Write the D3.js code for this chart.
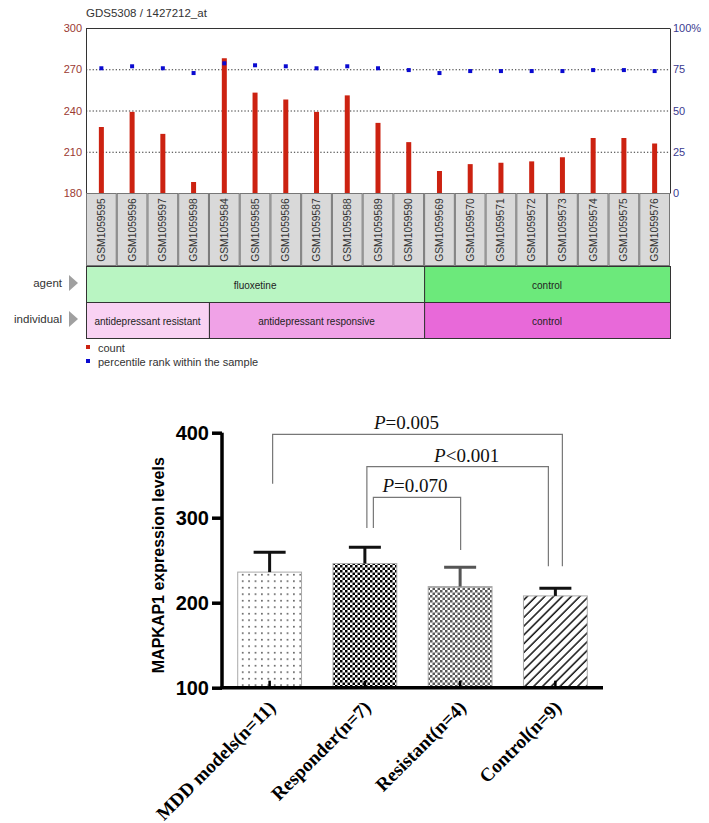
<!DOCTYPE html>
<html><head><meta charset="utf-8">
<script src="https://cdn.jsdelivr.net/npm/d3@7"></script>
<style>html,body{margin:0;padding:0;background:#fff}svg{display:block}</style>
</head><body>
<svg id="c" width="709" height="823"></svg>
<script>
// ---------- DATA ----------
const title = "GDS5308 / 1427212_at";
const samples = ["GSM1059595","GSM1059596","GSM1059597","GSM1059598","GSM1059584","GSM1059585","GSM1059586","GSM1059587","GSM1059588","GSM1059589","GSM1059590","GSM1059569","GSM1059570","GSM1059571","GSM1059572","GSM1059573","GSM1059574","GSM1059575","GSM1059576"];
const counts = [228, 239, 223, 188, 278, 253, 248, 239, 251, 231, 217, 196, 201, 202, 203, 206, 220, 220, 216];
const percentiles = [75.6, 76.8, 75.6, 72.7, 78.6, 77.4, 76.8, 75.6, 76.8, 75.6, 74.5, 72.7, 73.9, 73.9, 73.9, 73.9, 74.5, 74.5, 73.9];
const countTicks = [180, 210, 240, 270, 300];
const pctTicks = [0, 25, 50, 75, 100];
const agentOfSample = ["fluoxetine","fluoxetine","fluoxetine","fluoxetine","fluoxetine","fluoxetine","fluoxetine","fluoxetine","fluoxetine","fluoxetine","fluoxetine","control","control","control","control","control","control","control","control"];
const individualOfSample = ["antidepressant resistant","antidepressant resistant","antidepressant resistant","antidepressant resistant","antidepressant responsive","antidepressant responsive","antidepressant responsive","antidepressant responsive","antidepressant responsive","antidepressant responsive","antidepressant responsive","control","control","control","control","control","control","control","control"];
const legendLabels = ["count", "percentile rank within the sample"];

const groups = ["MDD models(n=11)", "Responder(n=7)", "Resistant(n=4)", "Control(n=9)"];
const means = [236, 246, 219, 208];
const sems = [23.5, 19.3, 22.8, 9];
const yTicks = [100, 200, 300, 400];
const yLabel = "MAPKAP1 expression levels";
const comparisons = [
  {a: 0, b: 3, op: "=", p: "0.005"},
  {a: 1, b: 3, op: "<", p: "0.001"},
  {a: 1, b: 2, op: "=", p: "0.070"}
];

// ---------- STYLES / LAYOUT ----------
const svg = d3.select("#c");
const T = {left: 86, right: 670, top: 28, bottom: 193};
const agentColors = {"fluoxetine": "#b9f5c2", "control": "#6ce97b"};
const indivColors = {"antidepressant resistant": "#f9d2f3", "antidepressant responsive": "#f0a2e7", "control": "#e869d9"};

// ---------- TOP CHART ----------
const topG = svg.append("g");
topG.append("text").attr("x", T.left).attr("y", 17).attr("font-family", "Arial, Liberation Sans, sans-serif")
  .attr("font-size", 11.5).attr("fill", "#333").text(title);

const x = d3.scaleBand().domain(samples).range([T.left, T.right]).padding(0);
const yC = d3.scaleLinear().domain([180, 300]).range([T.bottom, T.top]);
const yP = d3.scaleLinear().domain([0, 100]).range([T.bottom, T.top]);

// gridlines
topG.append("g").selectAll("line").data([210, 240, 270]).join("line")
  .attr("x1", T.left).attr("x2", T.right).attr("y1", d => yC(d) + 0.5).attr("y2", d => yC(d) + 0.5)
  .attr("stroke", "#333").attr("stroke-width", 1).attr("stroke-dasharray", "1.3,2");

// axes
const axL = topG.append("g").attr("transform", `translate(${T.left},0)`)
  .call(d3.axisLeft(yC).tickValues(countTicks).tickSize(0).tickPadding(4));
axL.select(".domain").attr("stroke", "#333");
axL.selectAll("text").attr("fill", "#9b3a32").attr("font-size", 11).attr("font-family", "Arial, Liberation Sans, sans-serif");
const axR = topG.append("g").attr("transform", `translate(${T.right},0)`)
  .call(d3.axisRight(yP).tickValues(pctTicks).tickSize(0).tickPadding(3).tickFormat(d => d === 100 ? "100%" : d));
axR.select(".domain").attr("stroke", "#333");
axR.selectAll("text").attr("fill", "#3a3a8f").attr("font-size", 11).attr("font-family", "Arial, Liberation Sans, sans-serif");
topG.append("line").attr("x1", T.left).attr("x2", T.right).attr("y1", T.top + 0.5).attr("y2", T.top + 0.5).attr("stroke", "#333");

// bars
topG.append("g").selectAll("rect").data(samples).join("rect")
  .attr("x", d => x(d) + x.bandwidth() / 2 - 2.5).attr("width", 5)
  .attr("y", (d, i) => yC(counts[i])).attr("height", (d, i) => T.bottom - yC(counts[i]))
  .attr("fill", "#cc2211");
// percentile points
topG.append("g").selectAll("rect").data(samples).join("rect")
  .attr("x", d => x(d) + x.bandwidth() / 2 - 2).attr("width", 4)
  .attr("y", (d, i) => yP(percentiles[i]) - 2).attr("height", 4)
  .attr("fill", "#0a0ad0");

// sample label boxes
const lab = topG.append("g").selectAll("g").data(samples).join("g");
lab.append("rect").attr("x", d => x(d) + 0.5).attr("y", T.bottom + 0.5).attr("width", x.bandwidth() - 1).attr("height", 72)
  .attr("fill", "#d9d9d9").attr("stroke", "#777");
lab.append("text").attr("transform", d => `translate(${x(d) + x.bandwidth() / 2 + 3.5},${T.bottom + 37}) rotate(-90)`)
  .attr("text-anchor", "middle").attr("font-family", "Arial, Liberation Sans, sans-serif").attr("font-size", 10.3)
  .attr("fill", "#333").text(d => d);

// group rows
function spans(arr) {
  const out = [];
  arr.forEach((v, i) => {
    if (out.length && out[out.length - 1].label === v) out[out.length - 1].end = i;
    else out.push({label: v, start: i, end: i});
  });
  return out;
}
function row(arr, colors, y0, h, name) {
  const g = topG.append("g");
  const sp = spans(arr);
  g.selectAll("rect").data(sp).join("rect")
    .attr("x", d => x(samples[d.start]) + 0.5).attr("y", y0 + 0.5)
    .attr("width", d => x(samples[d.end]) + x.bandwidth() - x(samples[d.start])).attr("height", h)
    .attr("fill", d => colors[d.label]).attr("stroke", "#333");
  g.selectAll("text.v").data(sp).join("text").attr("class", "v")
    .attr("x", d => (x(samples[d.start]) + x(samples[d.end]) + x.bandwidth()) / 2)
    .attr("y", y0 + h / 2 + 5).attr("text-anchor", "middle")
    .attr("font-family", "Arial, Liberation Sans, sans-serif").attr("font-size", 10).attr("fill", "#222")
    .text(d => d.label);
  g.append("text").attr("x", 62).attr("y", y0 + h / 2 + 3).attr("text-anchor", "end")
    .attr("font-family", "Arial, Liberation Sans, sans-serif").attr("font-size", 11.5).attr("fill", "#333").text(name);
  const cy = y0 + h / 2 - 1;
  g.append("path").attr("d", `M69,${cy - 8}L78,${cy}L69,${cy + 8}Z`).attr("fill", "#a0a0a0");
}
row(agentOfSample, agentColors, 266, 36, "agent");
row(individualOfSample, indivColors, 302, 36, "individual");

// legend
const lg = topG.append("g").selectAll("g").data(legendLabels).join("g")
  .attr("transform", (d, i) => `translate(86,${348 + i * 14})`);
lg.append("rect").attr("x", 0).attr("y", -3).attr("width", 4).attr("height", 4)
  .attr("fill", (d, i) => i === 0 ? "#cc2211" : "#0a0ad0");
lg.append("text").attr("x", 12).attr("y", 3.5).attr("font-family", "Arial, Liberation Sans, sans-serif")
  .attr("font-size", 11).attr("fill", "#333").text(d => d);

// ---------- BOTTOM CHART ----------
const B = {left: 222, right: 603, top: 432.7, bottom: 687.7};
const defs = svg.append("defs");
// dots
const pd = defs.append("pattern").attr("id", "dots").attr("patternUnits", "userSpaceOnUse")
  .attr("width", 6.4).attr("height", 6.5).attr("x", 240).attr("y", 0);
pd.append("rect").attr("width", 6.4).attr("height", 6.5).attr("fill", "#fff");
pd.append("rect").attr("x", 2).attr("y", 2).attr("width", 1.4).attr("height", 1.4).attr("fill", "#222");
// checkers
function checker(id, col) {
  const p = defs.append("pattern").attr("id", id).attr("patternUnits", "userSpaceOnUse").attr("width", 5).attr("height", 5);
  p.append("rect").attr("width", 5).attr("height", 5).attr("fill", "#fff");
  p.append("rect").attr("width", 2.5).attr("height", 2.5).attr("fill", col);
  p.append("rect").attr("x", 2.5).attr("y", 2.5).attr("width", 2.5).attr("height", 2.5).attr("fill", col);
}
checker("chk1", "#000");
checker("chk2", "#5a5a5a");
const ph = defs.append("pattern").attr("id", "hatch").attr("patternUnits", "userSpaceOnUse")
  .attr("width", 6.2).attr("height", 10).attr("patternTransform", "rotate(45)");
ph.append("rect").attr("width", 6.2).attr("height", 10).attr("fill", "#fff");
ph.append("line").attr("x1", 1).attr("x2", 1).attr("y1", 0).attr("y2", 10).attr("stroke", "#111").attr("stroke-width", 1.5);
const fills = ["url(#dots)", "url(#chk1)", "url(#chk2)", "url(#hatch)"];
const errColors = ["#111", "#111", "#555", "#111"];

const bx = d3.scaleBand().domain(groups).range([B.left, B.right]).paddingInner(0.33).paddingOuter(0.165);
const by = d3.scaleLinear().domain([100, 400]).range([B.bottom, B.top]);
const bot = svg.append("g");

// bars
bot.append("g").selectAll("rect").data(groups).join("rect")
  .attr("x", d => bx(d)).attr("width", bx.bandwidth())
  .attr("y", (d, i) => by(means[i])).attr("height", (d, i) => B.bottom - by(means[i]))
  .attr("fill", (d, i) => fills[i]).attr("stroke", "#aaa").attr("stroke-width", 1);
// error bars
const eb = bot.append("g").selectAll("g").data(groups).join("g");
eb.append("line").attr("x1", d => bx(d) + bx.bandwidth() / 2).attr("x2", d => bx(d) + bx.bandwidth() / 2)
  .attr("y1", (d, i) => by(means[i])).attr("y2", (d, i) => by(means[i] + sems[i]))
  .attr("stroke", (d, i) => errColors[i]).attr("stroke-width", 3);
eb.append("line").attr("x1", d => bx(d) + bx.bandwidth() / 2 - 16).attr("x2", d => bx(d) + bx.bandwidth() / 2 + 16)
  .attr("y1", (d, i) => by(means[i] + sems[i])).attr("y2", (d, i) => by(means[i] + sems[i]))
  .attr("stroke", (d, i) => errColors[i]).attr("stroke-width", 3);

// axes
const yax = bot.append("g").attr("transform", `translate(${B.left},0)`)
  .call(d3.axisLeft(by).tickValues(yTicks).tickSize(10).tickPadding(3));
yax.select(".domain").attr("stroke", "#000").attr("stroke-width", 3.5).attr("d", `M0,${B.top}V${B.bottom}`);
yax.selectAll(".tick line").attr("stroke", "#000").attr("stroke-width", 3.5);
yax.selectAll("text").attr("font-family", "Arial, Liberation Sans, sans-serif").attr("font-weight", "bold")
  .attr("font-size", 20).attr("fill", "#000").attr("dy", "0.35em");
const xax = bot.append("g").attr("transform", `translate(0,${B.bottom})`)
  .call(d3.axisBottom(bx).tickSize(-7).tickFormat(""));
xax.select(".domain").attr("stroke", "#000").attr("stroke-width", 3.5).attr("d", `M${B.left - 1.5},0H${B.right}`);
xax.selectAll(".tick line").attr("stroke", "#000").attr("stroke-width", 2.5);
// x labels
bot.append("g").selectAll("text").data(groups).join("text")
  .attr("transform", d => `translate(${bx(d) + bx.bandwidth() / 2 + 7},${B.bottom + 21}) rotate(-45)`)
  .attr("text-anchor", "end").attr("font-family", "Liberation Serif, Times New Roman, serif").attr("font-weight", "bold")
  .attr("font-size", 19).attr("fill", "#000").text(d => d);
// y label
bot.append("text").attr("transform", `translate(164,${(B.top + B.bottom) / 2 + 5}) rotate(-90)`)
  .attr("text-anchor", "middle").attr("font-family", "Arial, Liberation Sans, sans-serif").attr("font-weight", "bold")
  .attr("font-size", 16).attr("fill", "#000").text(yLabel);

// comparison brackets (levels in data units, leg offsets and text shifts in px)
const bracketLayout = [
  {level: 398, legA: 340, legB: 243, offA: 3, offB: 7, tx: -11},
  {level: 360, legA: 288, legB: 243, offA: 2, offB: -7, tx: 9},
  {level: 324, legA: 288, legB: 262, offA: 8.5, offB: 0.5, tx: -2}
];
const cx = i => bx(groups[i]) + bx.bandwidth() / 2;
const br = bot.append("g").selectAll("g").data(comparisons).join("g");
br.append("path").attr("fill", "none").attr("stroke", "#777").attr("stroke-width", 1.2)
  .attr("d", (d, k) => {
    const L = bracketLayout[k];
    const xa = cx(d.a) + L.offA, xb = cx(d.b) + L.offB;
    return `M${xa},${by(L.legA)}V${by(L.level)}H${xb}V${by(L.legB)}`;
  });
const pt = br.append("text").attr("text-anchor", "middle")
  .attr("x", (d, k) => (cx(d.a) + bracketLayout[k].offA + cx(d.b) + bracketLayout[k].offB) / 2 + bracketLayout[k].tx)
  .attr("y", (d, k) => by(bracketLayout[k].level) - 5)
  .attr("font-family", "Liberation Serif, Times New Roman, serif").attr("font-size", 19).attr("fill", "#111");
pt.append("tspan").attr("font-style", "italic").text("P");
pt.append("tspan").text(d => d.op + d.p);
</script>
</body></html>
